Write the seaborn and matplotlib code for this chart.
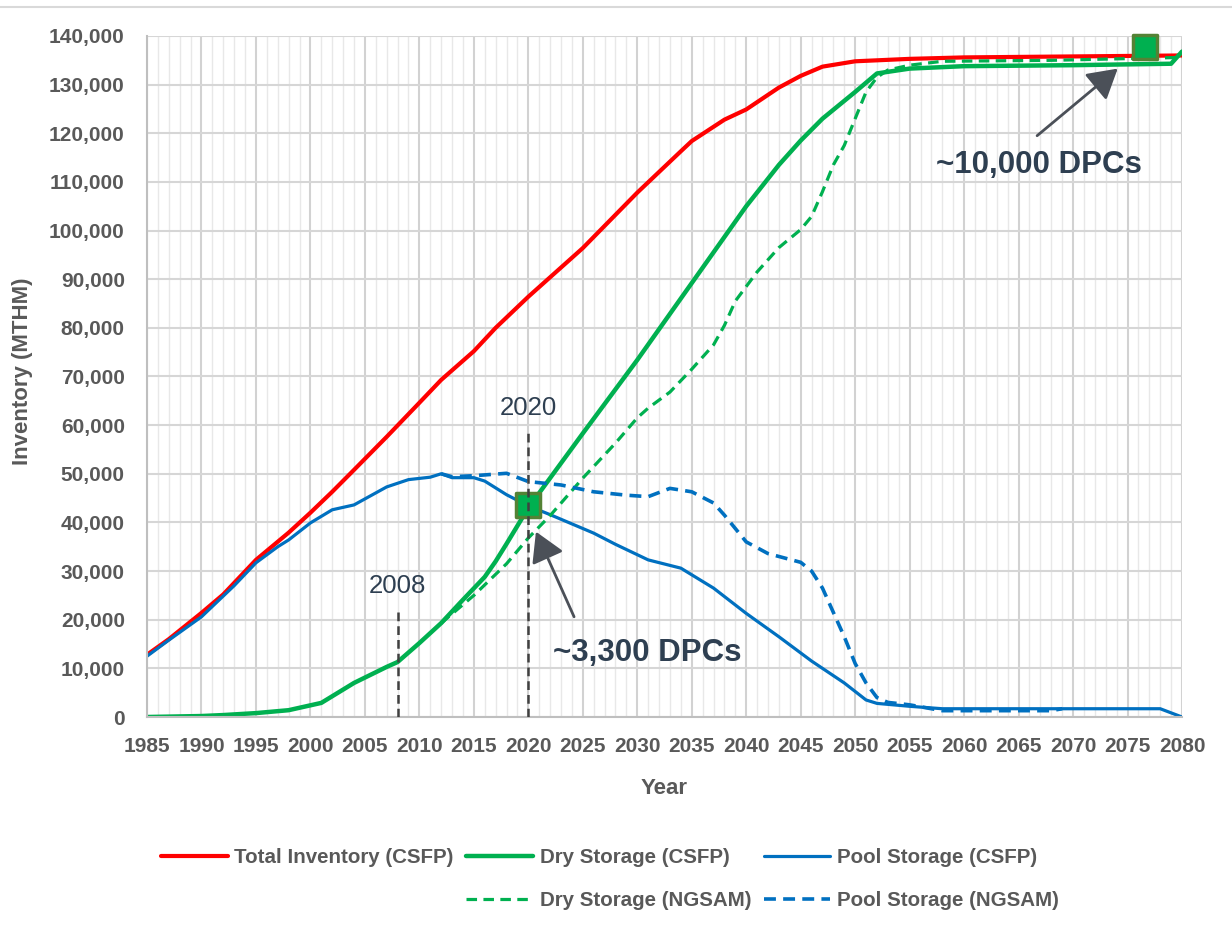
import matplotlib
matplotlib.use("Agg")
import matplotlib.pyplot as plt
from matplotlib.lines import Line2D
import seaborn as sns

# ---------------------------------------------------------------
# Data (MTHM)
# ---------------------------------------------------------------
total_years = [1985, 1987, 1990, 1992, 1995, 1998, 2000, 2002, 2004, 2007, 2010, 2012,
               2015, 2017, 2020, 2025, 2030, 2034, 2035, 2038, 2040, 2043, 2045, 2047,
               2050, 2055, 2060, 2070, 2080]
total_csfp = [12800, 16000, 21400, 25200, 32300, 37900, 42000, 46300, 50800, 57600, 64600, 69300,
              75200, 80000, 86400, 96400, 107800, 116300, 118400, 122800, 124900, 129400, 131800, 133700,
              134800, 135300, 135600, 135800, 136000]

dry_years = [1985, 1990, 1992, 1995, 1998, 2001, 2004, 2007, 2008, 2010, 2012, 2014, 2016,
             2017, 2018, 2020, 2025, 2030, 2035, 2040, 2043, 2045, 2047, 2050, 2052, 2055, 2060,
             2070, 2079, 2080]
dry_csfp = [0, 200, 400, 800, 1400, 2900, 7000, 10300, 11300, 15200, 19300, 24100, 28800,
            32000, 35600, 43000, 58300, 73400, 89200, 105000, 113500, 118500, 123000, 128500, 132300, 133300, 133800,
            134000, 134300, 136800]

pool_years = [1985, 1987, 1990, 1993, 1995, 1997, 1998, 2000, 2002, 2004, 2007, 2009, 2011,
              2012, 2013, 2015, 2016, 2018, 2020, 2022, 2026, 2028, 2031, 2034, 2037, 2040,
              2043, 2046, 2049, 2051, 2052, 2055, 2058, 2078, 2080]
pool_csfp = [12500, 15800, 20600, 27000, 31700, 35000, 36400, 39900, 42600, 43600, 47300, 48800, 49300,
             50000, 49200, 49200, 48500, 45700, 43400, 41600, 37800, 35500, 32300, 30600, 26500, 21300,
             16500, 11500, 7000, 3500, 2800, 2200, 1700, 1700, 0]

dry_ng_years = [2012, 2015, 2018, 2020, 2022, 2025, 2028, 2030, 2031, 2033, 2035, 2037, 2038,
                2039, 2041, 2043, 2045, 2046, 2047, 2048, 2049, 2050, 2051, 2052, 2053, 2055,
                2058, 2068, 2080]
dry_ngsam = [19300, 25000, 31500, 36800, 41400, 49100, 56300, 61500, 63500, 66800, 71500, 76500, 80500,
             85500, 91500, 96500, 100200, 102900, 108000, 113500, 117500, 123000, 128500, 131500, 133000, 134000,
             134800, 135000, 135600]

pool_ng_years = [2012, 2013, 2015, 2018, 2020, 2023, 2026, 2029, 2031, 2033, 2035, 2037, 2038,
                 2040, 2042, 2045, 2046, 2047, 2048, 2049, 2050, 2051, 2052, 2053, 2055, 2058,
                 2068, 2069]
pool_ngsam = [50000, 49400, 49600, 50100, 48400, 47700, 46300, 45600, 45300, 47000, 46300, 44000, 41500,
              36000, 33600, 31800, 30000, 26500, 21500, 16500, 11000, 7000, 4000, 3000, 2500, 1300,
              1300, 1700]

# DPC call-outs
marker_years = [2020, 2076.6]
marker_vals = [43500, 137700]
ref_years = [2008, 2020]
ref_tops = [22000, 58500]

x_ticks = list(range(1985, 2081, 5))
y_ticks = list(range(0, 140001, 10000))

RED, GREEN, BLUE = "#FF0000", "#00B050", "#0070C0"
GRAY_TXT = "#595959"
NAVY_TXT = "#2E3F51"

# ---------------------------------------------------------------
# Figure
# ---------------------------------------------------------------
sns.set_theme(style="white")
plt.rcParams["font.family"] = ["Liberation Sans", "DejaVu Sans"]

fig = plt.figure(figsize=(12.32, 9.30), dpi=100)
ax = fig.add_axes([147 / 1232, 1 - 717 / 930, (1182 - 147) / 1232, (717 - 36) / 930])

dash = (0, (3.3, 2.0))
sns.lineplot(x=total_years, y=total_csfp, ax=ax, color=RED, lw=3.0,
             label="Total Inventory (CSFP)", estimator=None, errorbar=None)
sns.lineplot(x=dry_years, y=dry_csfp, ax=ax, color=GREEN, lw=3.2,
             label="Dry Storage (CSFP)", estimator=None, errorbar=None)
sns.lineplot(x=pool_years, y=pool_csfp, ax=ax, color=BLUE, lw=2.3,
             label="Pool Storage (CSFP)", estimator=None, errorbar=None)
sns.lineplot(x=dry_ng_years, y=dry_ngsam, ax=ax, color=GREEN, lw=2.3, linestyle=dash,
             label="Dry Storage (NGSAM)", estimator=None, errorbar=None)
sns.lineplot(x=pool_ng_years, y=pool_ngsam, ax=ax, color=BLUE, lw=2.6, linestyle=dash,
             label="Pool Storage (NGSAM)", estimator=None, errorbar=None)
if ax.get_legend() is not None:
    ax.get_legend().remove()

sns.scatterplot(x=marker_years, y=marker_vals, ax=ax, marker="s", s=300,
                color=GREEN, edgecolor="#548235", linewidth=2.5, zorder=5, legend=False,
                clip_on=False)

ax.vlines(ref_years, 0, ref_tops, colors="#404040", linestyles=(0, (3.5, 2)), lw=1.8, zorder=6)
for yr, top in zip(ref_years, ref_tops):
    ax.text(yr, top + 5000, str(yr), ha="center", va="center", fontsize=18.5, color=NAVY_TXT)

arrow = dict(arrowstyle="-|>,head_length=0.6,head_width=0.35", color="#4B5058",
             lw=2, mutation_scale=30, shrinkA=0, shrinkB=0)
ax.annotate("", xy=(2020.7, 38100), xytext=(2024.2, 20600), arrowprops=arrow, zorder=7)
ax.annotate("", xy=(2074.1, 133300), xytext=(2066.7, 119500), arrowprops=arrow, zorder=7)
ax.text(2030.95, 13100, "~3,300 DPCs", ha="center", va="center", fontsize=22.5,
        fontweight="bold", color=NAVY_TXT)
ax.text(2066.9, 113400, "~10,000 DPCs", ha="center", va="center", fontsize=22.5,
        fontweight="bold", color=NAVY_TXT)

# axes, grid, ticks
ax.set_xlim(1985, 2080)
ax.set_ylim(0, 140000)
ax.set_xticks(x_ticks, labels=[str(t) for t in x_ticks], fontweight="bold")
ax.set_xticks(list(range(1985, 2081)), minor=True)
ax.set_yticks(y_ticks, labels=[f"{v:,}" for v in y_ticks], fontweight="bold")
ax.tick_params(which="both", length=0, labelsize=15, labelcolor=GRAY_TXT)
ax.tick_params(axis="y", pad=16)
ax.tick_params(axis="x", pad=14.5)
ax.grid(which="minor", axis="x", color="#E8E8E8", lw=1.0)
ax.grid(which="major", axis="x", color="#D2D2D2", lw=1.5)
ax.grid(which="major", axis="y", color="#D6D6D6", lw=1.5)
ax.set_axisbelow(True)
for s in ["top", "right"]:
    ax.spines[s].set_visible(False)
for s in ["left", "bottom"]:
    ax.spines[s].set_color("#BFBFBF")
    ax.spines[s].set_linewidth(1.5)

ax.set_xlabel("Year", fontsize=16, fontweight="bold", color=GRAY_TXT)
ax.set_ylabel("Inventory (MTHM)", fontsize=16, fontweight="bold", color=GRAY_TXT)
ax.xaxis.set_label_coords(0.5, (717 - 778) / 681)
ax.yaxis.set_label_coords((33 - 147) / 1035, 0.507)

# legend: 3 columns, first column of second row left empty
h, l = ax.get_legend_handles_labels()
hmap = dict(zip(l, h))
blank = Line2D([], [], color="none")
order = ["Total Inventory (CSFP)", None, "Dry Storage (CSFP)", "Dry Storage (NGSAM)",
         "Pool Storage (CSFP)", "Pool Storage (NGSAM)"]
handles = [hmap[k] if k else blank for k in order]
labels = [k if k else "" for k in order]
fig.legend(handles, labels, ncol=3, loc="center", bbox_to_anchor=(610 / 1232, 1 - 879 / 930),
           frameon=False, handlelength=3.25, handletextpad=0.33, columnspacing=0.6,
           labelspacing=1.15, labelcolor=GRAY_TXT,
           prop=dict(family=["Liberation Sans", "DejaVu Sans"], weight="bold", size=14.8))

fig.add_artist(Line2D([0, 1], [1 - 7 / 930] * 2, transform=fig.transFigure,
                      color="#D9D9D9", lw=1.5))

fig.savefig("out.png", dpi=100)
